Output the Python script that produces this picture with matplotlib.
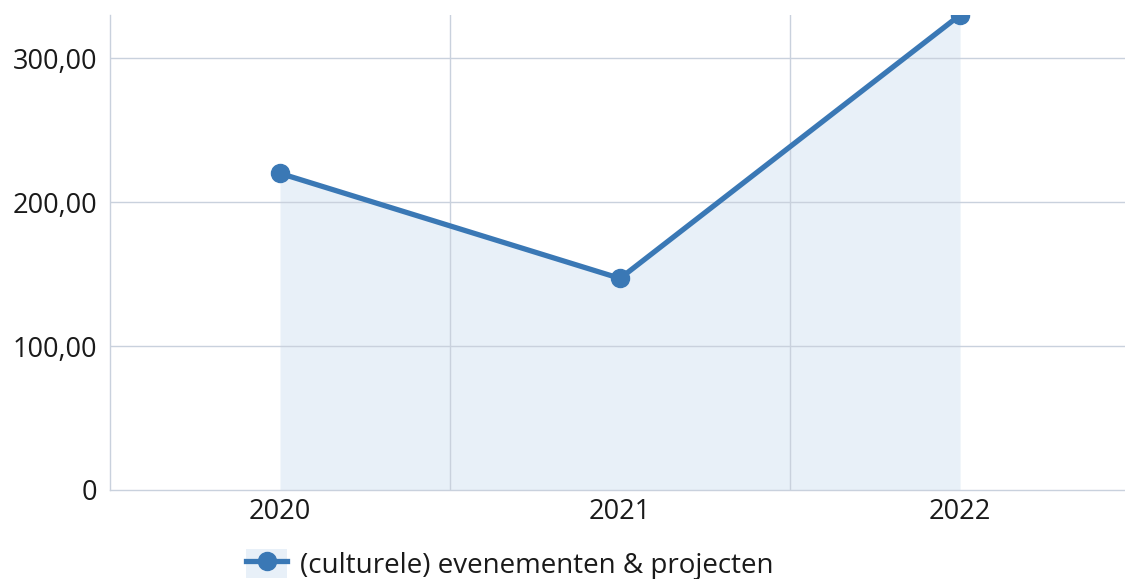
import matplotlib
matplotlib.use("Agg")
import matplotlib.pyplot as plt
from matplotlib.patches import Patch
from matplotlib.lines import Line2D
from matplotlib.ticker import FuncFormatter

# Data
jaren = ['2020', '2021', '2022']
waarden = [220, 147, 330]
serie_naam = '(culturele) evenementen & projecten'
y_ticks = [0, 100, 200, 300]

lijn_kleur = '#3a78b5'
vul_kleur = '#e8f0f8'
grid_kleur = '#c9d1dd'

plt.rcParams['font.family'] = ['Open Sans', 'DejaVu Sans']

fig = plt.figure(figsize=(11.25, 5.79), dpi=100)
ax = fig.add_axes([110 / 1125, 89 / 579, 1 - 110 / 1125, 475 / 579])

x = list(range(len(jaren)))
ax.fill_between(x, 0, waarden, color=vul_kleur, linewidth=0, zorder=1)
ax.plot(x, waarden, color=lijn_kleur, linewidth=3.8, marker='o',
        markersize=13, zorder=3, clip_on=True)

ax.set_xlim(-0.5, 2.485)
ax.set_ylim(0, 330)

ax.set_yticks(y_ticks)
ax.yaxis.set_major_formatter(FuncFormatter(
    lambda v, p: '0' if v == 0 else f'{v:.2f}'.replace('.', ',')))
ax.set_xticks(x)
ax.set_xticklabels(jaren)
ax.tick_params(axis='both', length=0, labelsize=19.5, colors='#1a1a1a')
ax.tick_params(axis='y', pad=9)
ax.tick_params(axis='x', pad=6)

# rasterlijnen boven de vulling
for yv in y_ticks[1:]:
    ax.axhline(yv, color=grid_kleur, linewidth=1, zorder=2)
for xv in [0.5, 1.5]:
    ax.axvline(xv, color=grid_kleur, linewidth=1, zorder=2)

for s in ['top', 'right']:
    ax.spines[s].set_visible(False)
for s in ['left', 'bottom']:
    ax.spines[s].set_color(grid_kleur)
    ax.spines[s].set_linewidth(1)

handle = (Patch(facecolor=vul_kleur, edgecolor='none'),
          Line2D([], [], color=lijn_kleur, linewidth=3.8, marker='o', markersize=13))
fig.legend([handle], [serie_naam], loc='center', bbox_to_anchor=(0.453, 0.025),
           frameon=False, fontsize=20, handlelength=1.5, handleheight=1.2,
           handletextpad=0.45, labelcolor='#1a1a1a')

fig.savefig('out.png', dpi=100)
